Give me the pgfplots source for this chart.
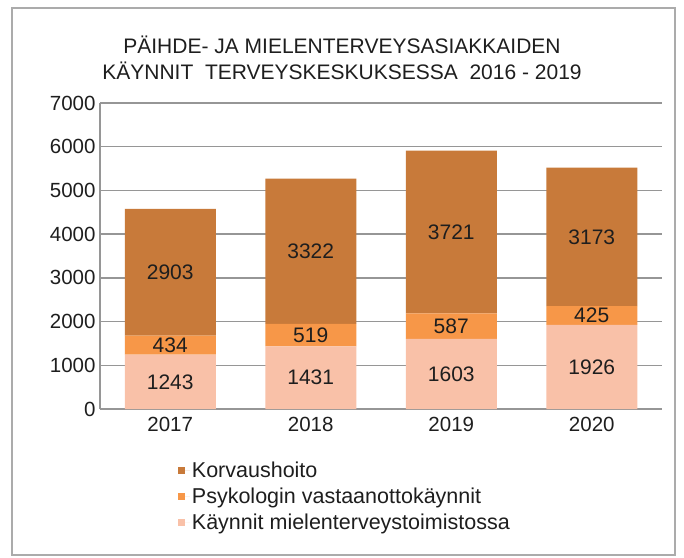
\documentclass[border=0pt]{standalone}
\usepackage{pgfplots}
\pgfplotsset{compat=1.18}
\usepackage{fontspec}
\setmainfont{Liberation Sans}
\definecolor{cdark}{RGB}{200,122,58}
\definecolor{cmid}{RGB}{247,151,72}
\definecolor{clight}{RGB}{249,193,168}
\definecolor{gridc}{RGB}{150,150,150}
\definecolor{txt}{RGB}{30,30,30}
\begin{document}
\begin{tikzpicture}[x=1pt,y=1pt]
\fill[white] (0,0) rectangle (684,557);
\draw[gridc!80, line width=1.6pt] (12,2) rectangle (675,549);
\node[align=center, font=\fontsize{21}{26}\selectfont, text=txt] at (342,499) {PÄIHDE- JA MIELENTERVEYSASIAKKAIDEN\\KÄYNNIT\ \ TERVEYSKESKUKSESSA\ \ 2016\ -\ 2019};
\begin{axis}[
  at={(100pt,148pt)}, anchor=south west,
  scale only axis, width=562pt, height=306pt,
  ybar stacked, bar width=91pt,
  xmin=-0.5, xmax=3.5, ymin=0, ymax=7000,
  xtick={0,1,2,3}, xticklabels={2017,2018,2019,2020},
  ytick={0,1000,...,7000},
  major tick length=0pt,
  ymajorgrids, grid style={gridc, line width=1.5pt},
  axis x line*=bottom, axis y line*=left,
  axis line style={gridc, line width=1.5pt},
  /pgf/number format/assume math mode=true,
  /pgf/number format/1000 sep={},
  tick label style={font=\fontsize{20.5}{22}\selectfont, text=txt},
  yticklabel style={xshift=-1pt},
  xticklabel style={yshift=-5pt},
  legend style={at={(0.133,-0.16)}, anchor=north west, draw=none, fill=none,
    font=\fontsize{21.5}{23}\selectfont, text=txt, row sep=5pt,
    legend cell align=left},
  reverse legend,
  legend image code/.code={\fill[#1] (-4pt,-3.5pt) rectangle (3pt,3.5pt);\path (3pt,0pt) -- (8pt,0pt);},
]
\addplot[fill=clight, draw=none] coordinates {(0,1243) (1,1431) (2,1603) (3,1926)};
\addplot[fill=cmid, draw=none] coordinates {(0,434) (1,519) (2,587) (3,425)};
\addplot[fill=cdark, draw=none] coordinates {(0,2903) (1,3322) (2,3721) (3,3173)};
\legend{Käynnit mielenterveystoimistossa, Psykologin vastaanottokäynnit, Korvaushoito}
\end{axis}
\begin{axis}[
  at={(100pt,148pt)}, anchor=south west,
  scale only axis, width=562pt, height=306pt,
  xmin=-0.5, xmax=3.5, ymin=0, ymax=7000,
  axis lines=none,
  nodes near coords, point meta=explicit symbolic,
  every node near coord/.style={anchor=center, font=\fontsize{21}{22}\selectfont, text=txt},
]
\addplot[draw=none, mark=none, nodes near coords] coordinates {
  (0,621.5)[1243] (1,715.5)[1431] (2,801.5)[1603] (3,963)[1926]
  (0,1460)[434] (1,1690.5)[519] (2,1896.5)[587] (3,2138.5)[425]
  (0,3128.5)[2903] (1,3611)[3322] (2,4050.5)[3721] (3,3937.5)[3173]};
\end{axis}
\end{tikzpicture}
\end{document}
